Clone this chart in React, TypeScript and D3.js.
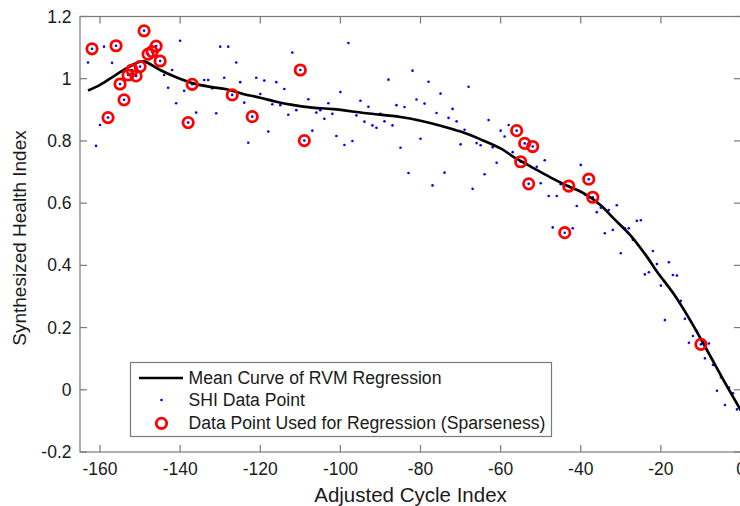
import React from "react";
import * as d3 from "d3";

const shiCycles = [-163,-162,-161,-160,-159,-158,-157,-156,-155,-154,-153,-152,-151,-150,-149,-148,-147,-146,-145,-144,-143,-142,-141,-140,-139,-138,-137,-136,-134,-133,-132,-131,-130,-129,-128,-127,-126,-125,-124,-123,-122,-121,-120,-119,-118,-117,-116,-115,-114,-113,-112,-111,-110,-109,-108,-107,-106,-105,-104,-103,-102,-101,-100,-99,-98,-97,-96,-95,-94,-93,-92,-91,-90,-89,-88,-87,-86,-85,-84,-83,-82,-81,-80,-79,-78,-77,-76,-75,-74,-73,-72,-71,-70,-69,-68,-67,-66,-65,-64,-63,-62,-61,-60,-59,-58,-57,-56,-55,-54,-53,-52,-51,-50,-49,-48,-47,-46,-45,-44,-43,-42,-41,-40,-39,-38,-37,-36,-35,-34,-33,-32,-31,-30,-29,-28,-27,-26,-25,-24,-23,-22,-21,-20,-19,-18,-17,-16,-15,-14,-13,-12,-11,-10,-9,-8,-7,-6,-5,-4,-3,-2,-1];

const shiValues = [1.052,1.096,0.784,0.851,1.103,0.875,1.051,1.106,0.983,0.932,1.012,1.028,1.009,1.039,1.154,1.079,1.087,1.105,1.057,1.012,0.971,1.028,0.921,1.122,0.961,0.859,0.982,0.891,0.996,0.996,0.969,0.889,1.103,1.003,1.103,0.948,1.052,0.989,0.923,0.794,0.878,1.003,0.951,0.994,0.830,0.918,0.989,0.915,0.967,0.884,1.084,0.899,1.028,0.801,0.934,0.833,0.891,0.899,0.871,0.921,0.887,0.816,0.957,0.787,1.115,0.800,0.882,0.929,0.862,0.910,0.850,0.842,0.887,0.863,0.997,0.850,0.915,0.778,0.909,0.697,1.026,0.933,0.807,0.920,0.990,0.657,0.890,0.952,0.698,0.874,0.903,0.863,0.789,0.836,0.974,0.646,0.793,0.786,0.693,0.867,0.780,0.730,0.833,0.814,0.851,0.764,0.833,0.733,0.792,0.662,0.782,0.717,0.664,0.738,0.623,0.522,0.623,0.661,0.505,0.655,0.519,0.591,0.723,0.628,0.677,0.619,0.571,0.585,0.503,0.578,0.514,0.593,0.439,0.519,0.519,0.482,0.543,0.545,0.371,0.378,0.446,0.404,0.335,0.224,0.410,0.369,0.367,0.286,0.228,0.151,0.173,0.189,0.146,0.101,0.149,0.080,-0.003,0.040,-0.049,0.007,-0.011,-0.063];

const sparseCycles = [-162,-158,-156,-155,-154,-153,-152,-151,-150,-149,-148,-147,-146,-145,-138,-137,-127,-122,-110,-109,-56,-55,-54,-53,-52,-44,-43,-38,-37,-10];

const curveCycles = [-163,-160,-156.7,-153.3,-150,-148.8,-145,-141,-136.7,-132.5,-128.4,-124.3,-120,-116,-112,-107.6,-101.8,-93.5,-85,-80,-75,-70,-65,-60,-56.8,-54.6,-51.7,-47.6,-43.4,-39.3,-35.1,-31.8,-27.7,-23.5,-21,-16.9,-12.7,-8.5,-4.4,0];
const curveValues = [0.962,0.980,1.007,1.034,1.055,1.055,1.028,1.005,0.985,0.974,0.966,0.951,0.939,0.926,0.916,0.908,0.902,0.889,0.877,0.865,0.849,0.830,0.805,0.776,0.749,0.733,0.712,0.683,0.656,0.632,0.594,0.551,0.498,0.428,0.380,0.310,0.224,0.128,0.032,-0.067];

const xTicks = [-160,-140,-120,-100,-80,-60,-40,-20,0];
const yTicks = [-0.2,0,0.2,0.4,0.6,0.8,1,1.2];

const legendLabels = [
  "Mean Curve of RVM Regression",
  "SHI Data Point",
  "Data Point Used for Regression (Sparseness)",
];

const W = 740, H = 506;
const L = 80, R = 741, T = 16.5, B = 452;
const FONT = "'Liberation Sans', Arial, Helvetica, sans-serif";
const AXIS = "#7a7a7a";

export default function App() {
  const x = d3.scaleLinear().domain([-165, 0]).range([L, R]);
  const y = d3.scaleLinear().domain([-0.2, 1.2]).range([B, T]);
  const line = d3
    .line<number>()
    .x((_, i) => x(curveCycles[i]))
    .y((d) => y(d))
    .curve(d3.curveCatmullRom.alpha(0.5));
  const lookup = new Map(shiCycles.map((c, i) => [c, shiValues[i]]));
  const tickLen = 7;

  return (
    <svg width={W} height={H} style={{ position: "absolute", left: 0, top: 0, background: "#fff" }} fontFamily={FONT}>
      <rect x={0} y={0} width={W} height={H} fill="#fff" />
      <defs>
        <clipPath id="plot"><rect x={L} y={T} width={R - L} height={B - T} /></clipPath>
      </defs>
      <rect x={L} y={T} width={R - L} height={B - T} fill="none" stroke={AXIS} strokeWidth={1.2} />
      {xTicks.map((t) => (
        <g key={"xt" + t}>
          <line x1={x(t)} x2={x(t)} y1={B} y2={B - tickLen} stroke={AXIS} strokeWidth={1.2} />
          <line x1={x(t)} x2={x(t)} y1={T} y2={T + tickLen} stroke={AXIS} strokeWidth={1.2} />
          <text x={x(t)} y={475} textAnchor="middle" fontSize={17.5} fill="#1a1a1a">{t}</text>
        </g>
      ))}
      {yTicks.map((t) => (
        <g key={"yt" + t}>
          <line x1={L} x2={L + tickLen} y1={y(t)} y2={y(t)} stroke={AXIS} strokeWidth={1.2} />
          <line x1={R} x2={R - tickLen} y1={y(t)} y2={y(t)} stroke={AXIS} strokeWidth={1.2} />
          <text x={71.5} y={y(t)} dy="0.35em" textAnchor="end" fontSize={17.5} fill="#1a1a1a">{t}</text>
        </g>
      ))}
      <text x={(L + R) / 2} y={502} textAnchor="middle" fontSize={20.5} fill="#1a1a1a">Adjusted Cycle Index</text>
      <text transform={`translate(25.5,238) rotate(-90)`} textAnchor="middle" fontSize={19} fill="#1a1a1a">Synthesized Health Index</text>

      <g clipPath="url(#plot)">
        {shiCycles.map((c, i) => (
          <circle key={"p" + c} cx={x(c)} cy={y(shiValues[i])} r={1.3} fill="#0000ff" />
        ))}
        <path d={line(curveValues) || ""} fill="none" stroke="#000" strokeWidth={2.7} />
        {sparseCycles.map((c) => (
          <circle key={"s" + c} cx={x(c)} cy={y(lookup.get(c) as number)} r={5.2} fill="none" stroke="#ff0000" strokeWidth={2.8} />
        ))}
      </g>

      <g>
        <rect x={130.5} y={362.5} width={421} height={74} fill="#fff" stroke={AXIS} strokeWidth={1.2} />
        <line x1={139} x2={183} y1={378} y2={378} stroke="#000" strokeWidth={2.7} />
        <circle cx={161.5} cy={400} r={1.3} fill="#0000ff" />
        <circle cx={161.5} cy={423.3} r={5.2} fill="none" stroke="#ff0000" strokeWidth={2.8} />
        {legendLabels.map((s, i) => (
          <text key={s} x={188.5} y={[378, 400, 423.3][i]} dy="0.35em" fontSize={17.6} fill="#1a1a1a">{s}</text>
        ))}
      </g>
    </svg>
  );
}
